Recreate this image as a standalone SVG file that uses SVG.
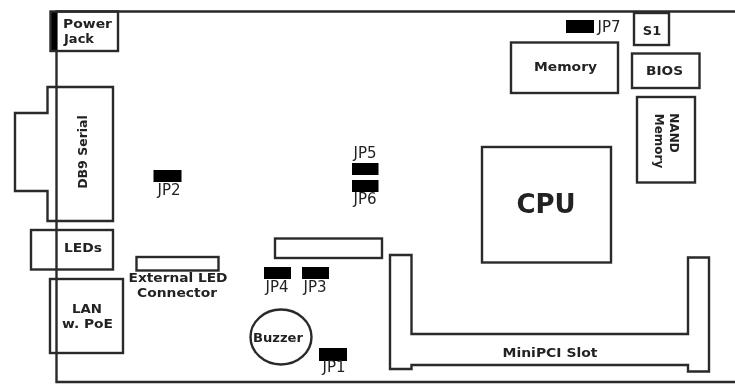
<svg xmlns="http://www.w3.org/2000/svg" width="735" height="385" viewBox="0 0 735 385">
<defs>
<style>
.b{fill:none;stroke:#2a2a2a;stroke-width:2.4}
.j{fill:#000;stroke:none}
text{font-family:"DejaVu Sans",sans-serif;font-weight:bold;font-size:13px;fill:#222;text-anchor:middle}
.t{font-weight:normal;font-size:15px}
</style>
<filter id="soft" x="-2%" y="-2%" width="104%" height="104%"><feGaussianBlur stdDeviation="0.7"/></filter>
</defs>
<rect width="735" height="385" fill="#fff"/>
<g filter="url(#soft)">
<g id="board"><path class="b" d="M735 11.500H56.500V382H735"/></g>
<g id="power-jack"><rect class="j" x="50" y="11" width="7" height="40"/><rect class="b" x="50.500" y="11.500" width="67.500" height="39.500"/><text x="87.500" y="27.500" style="font-size:12px" textLength="49" lengthAdjust="spacingAndGlyphs">Power</text><text x="79" y="43" style="font-size:12px" textLength="30" lengthAdjust="spacingAndGlyphs">Jack</text></g>
<g id="db9"><path class="b" d="M47.500 87H113V221H47.500V191H15V113H47.500Z"/><text transform="translate(87 152) rotate(-90)" style="font-size:12.500px">DB9 Serial</text></g>
<g id="leds"><rect class="b" x="31" y="230" width="82" height="39.500"/><text x="83" y="252" textLength="38" lengthAdjust="spacingAndGlyphs">LEDs</text></g>
<g id="lan"><rect class="b" x="50" y="279" width="73" height="74"/><text x="87" y="313" textLength="30" lengthAdjust="spacingAndGlyphs">LAN</text><text x="87.500" y="328" textLength="51" lengthAdjust="spacingAndGlyphs">w. PoE</text></g>
<g id="ext-led"><rect class="b" x="136.500" y="257" width="82" height="13.500"/><text x="178" y="282" textLength="99" lengthAdjust="spacingAndGlyphs">External LED</text><text x="177" y="297" textLength="80" lengthAdjust="spacingAndGlyphs">Connector</text></g>
<g id="header"><rect class="b" x="275" y="238.500" width="107" height="19.500"/></g>
<g id="buzzer"><ellipse class="b" cx="281" cy="337" rx="30.500" ry="27.500"/><text x="278" y="342" style="font-size:12px" textLength="50" lengthAdjust="spacingAndGlyphs">Buzzer</text></g>
<g id="slot"><path class="b" d="M390 255H411.500V334H688V257.500H709V371.500H688V365H411.500V369H390Z"/><text x="550" y="357" textLength="95" lengthAdjust="spacingAndGlyphs">MiniPCI Slot</text></g>
<g id="cpu"><rect class="b" x="482" y="147" width="129" height="115.500"/><text x="546" y="213" style="font-size:26px">CPU</text></g>
<g id="memory"><rect class="b" x="511" y="42.500" width="107" height="50.500"/><text x="565.500" y="71" textLength="63" lengthAdjust="spacingAndGlyphs">Memory</text></g>
<g id="s1"><rect class="b" x="634" y="13" width="35" height="32"/><text x="652" y="35">S1</text></g>
<g id="bios"><rect class="b" x="632" y="53.500" width="67.500" height="34.500"/><text x="664.500" y="75" textLength="37" lengthAdjust="spacingAndGlyphs">BIOS</text></g>
<g id="nand"><rect class="b" x="637" y="97" width="58" height="85.500"/><text transform="translate(670 133) rotate(90)" style="font-size:12px">NAND</text><text transform="translate(655 141) rotate(90)" style="font-size:12px">Memory</text></g>
<g id="jp1"><rect class="j" x="319" y="348" width="28" height="13"/><text class="t" x="334" y="372">JP1</text></g>
<g id="jp2"><rect class="j" x="153.500" y="170" width="28" height="12"/><text class="t" x="169" y="195">JP2</text></g>
<g id="jp3"><rect class="j" x="302" y="267" width="27" height="12"/><text class="t" x="315" y="292">JP3</text></g>
<g id="jp4"><rect class="j" x="264" y="267" width="27" height="12"/><text class="t" x="277" y="292">JP4</text></g>
<g id="jp5"><rect class="j" x="352" y="163" width="26.500" height="12"/><text class="t" x="365" y="158">JP5</text></g>
<g id="jp6"><rect class="j" x="352" y="180" width="26.500" height="12"/><text class="t" x="365" y="204">JP6</text></g>
<g id="jp7"><rect class="j" x="566" y="20" width="28" height="13"/><text class="t" x="609" y="32">JP7</text></g>
</g>
<g id="connectors"/>
</svg>
